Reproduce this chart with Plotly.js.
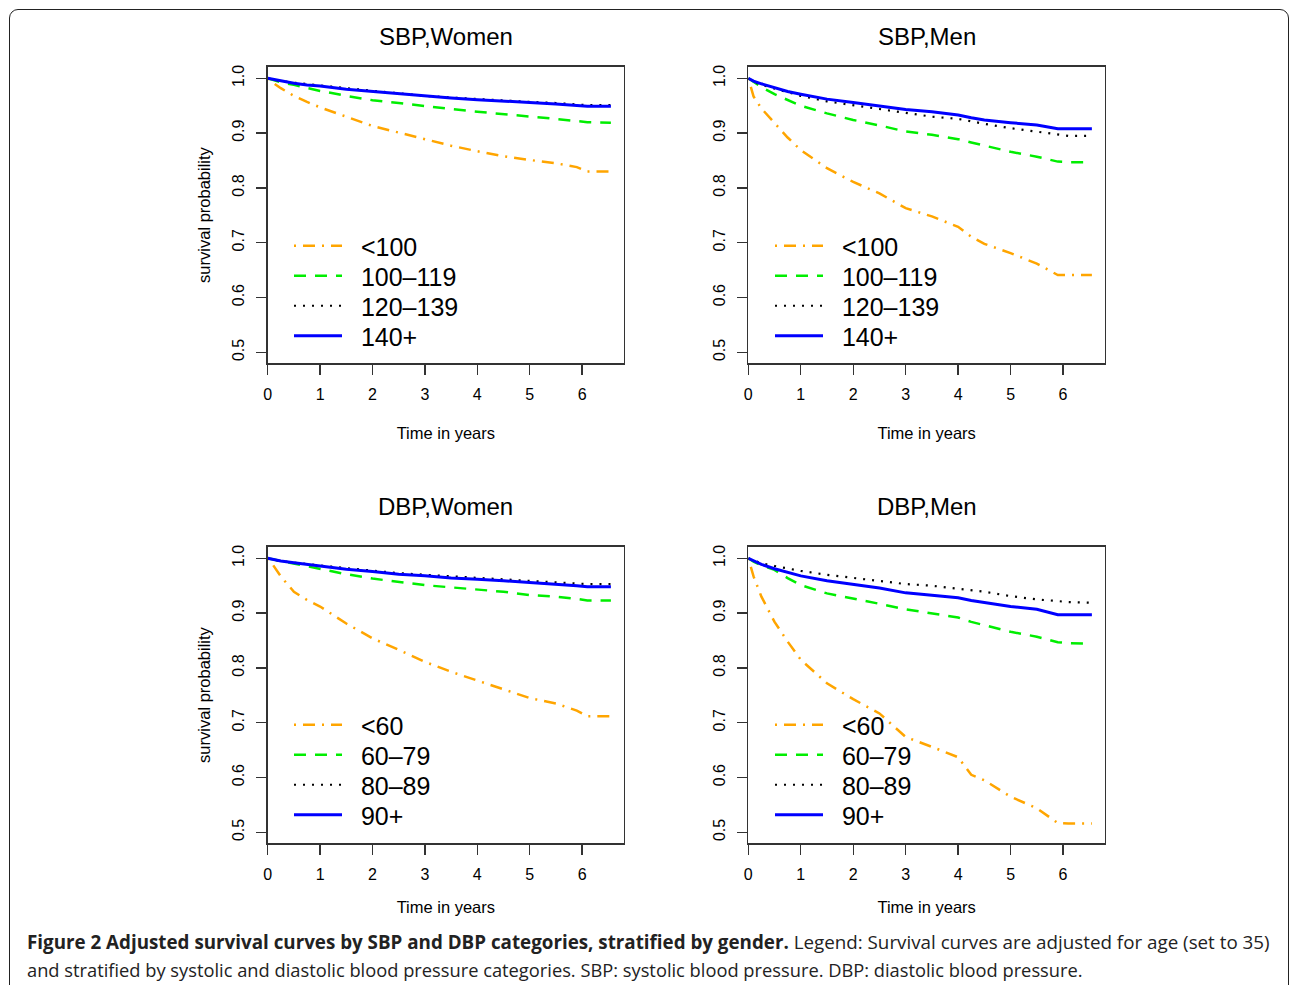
<!DOCTYPE html>
<html>
<head>
<meta charset="utf-8">
<script src="https://cdn.plot.ly/plotly-3.0.1.min.js"></script>
<style>
  html, body { margin: 0; padding: 0; background: #ffffff; overflow: hidden; width: 1290px; height: 985px; }
  #frame { position: absolute; left: 9px; top: 9px; width: 1280px; height: 1010px; box-sizing: border-box;
           border: 1.5px solid #222; border-radius: 9px; z-index: 0; }
  #chart { position: absolute; left: 0; top: 0; width: 1290px; height: 985px; z-index: 1; }
</style>
</head>
<body>
<div id="frame"></div>
<div id="chart"></div>
<script>
// ---- Data ----
var timeYears = [0, 0.1, 0.25, 0.5, 0.75, 1, 1.5, 2, 2.5, 3, 3.5, 4, 4.25, 4.5, 5, 5.5, 5.9, 6.1, 6.55];

var panelTitles = ["SBP,Women", "SBP,Men", "DBP,Women", "DBP,Men"];
var sbpCategories = ["<100", "100\u2013119", "120\u2013139", "140+"];
var dbpCategories = ["<60", "60\u201379", "80\u201389", "90+"];

// SBP, Women
var sbpWomenLt100   = [1.0, 0.992, 0.982, 0.968, 0.957, 0.947, 0.930, 0.913, 0.901, 0.889, 0.877, 0.867, 0.862, 0.858, 0.851, 0.845, 0.838, 0.830, 0.830];
var sbpWomen100_119 = [1.0, 0.997, 0.993, 0.988, 0.982, 0.977, 0.968, 0.960, 0.955, 0.949, 0.944, 0.939, 0.937, 0.934, 0.930, 0.926, 0.922, 0.920, 0.919];
var sbpWomen120_139 = [1.0, 0.998, 0.995, 0.992, 0.989, 0.987, 0.982, 0.977, 0.972, 0.968, 0.965, 0.962, 0.961, 0.959, 0.957, 0.955, 0.953, 0.951, 0.951];
var sbpWomen140p    = [1.0, 0.998, 0.995, 0.991, 0.988, 0.986, 0.980, 0.976, 0.971, 0.967, 0.964, 0.961, 0.960, 0.958, 0.956, 0.953, 0.950, 0.949, 0.949];

// SBP, Men
var sbpMenLt100   = [1.0, 0.967, 0.945, 0.918, 0.892, 0.869, 0.836, 0.811, 0.790, 0.763, 0.748, 0.729, 0.711, 0.698, 0.681, 0.662, 0.641, 0.641, 0.641];
var sbpMen100_119 = [1.0, 0.993, 0.984, 0.971, 0.960, 0.950, 0.936, 0.924, 0.914, 0.903, 0.897, 0.889, 0.883, 0.877, 0.866, 0.857, 0.848, 0.847, 0.847];
var sbpMen120_139 = [1.0, 0.994, 0.988, 0.981, 0.974, 0.968, 0.958, 0.951, 0.944, 0.936, 0.930, 0.926, 0.921, 0.917, 0.909, 0.903, 0.897, 0.895, 0.895];
var sbpMen140p    = [1.0, 0.995, 0.990, 0.983, 0.976, 0.971, 0.962, 0.956, 0.950, 0.943, 0.939, 0.933, 0.928, 0.924, 0.919, 0.915, 0.908, 0.908, 0.908];

// DBP, Women
var dbpWomenLt60  = [1.0, 0.988, 0.967, 0.939, 0.924, 0.912, 0.881, 0.854, 0.833, 0.811, 0.793, 0.777, 0.768, 0.760, 0.745, 0.735, 0.722, 0.712, 0.712];
var dbpWomen60_79 = [1.0, 0.998, 0.995, 0.990, 0.985, 0.980, 0.971, 0.963, 0.957, 0.951, 0.947, 0.943, 0.941, 0.939, 0.933, 0.930, 0.926, 0.923, 0.923];
var dbpWomen80_89 = [1.0, 0.998, 0.995, 0.992, 0.989, 0.987, 0.982, 0.977, 0.973, 0.970, 0.967, 0.964, 0.963, 0.961, 0.958, 0.956, 0.954, 0.953, 0.953];
var dbpWomen90p   = [1.0, 0.998, 0.995, 0.992, 0.989, 0.986, 0.980, 0.976, 0.971, 0.968, 0.964, 0.962, 0.960, 0.959, 0.956, 0.953, 0.950, 0.948, 0.948];

// DBP, Men
var dbpMenLt60  = [1.0, 0.967, 0.930, 0.884, 0.848, 0.815, 0.772, 0.743, 0.717, 0.674, 0.656, 0.637, 0.605, 0.595, 0.565, 0.544, 0.517, 0.516, 0.516];
var dbpMen60_79 = [1.0, 0.994, 0.987, 0.979, 0.964, 0.951, 0.936, 0.927, 0.917, 0.907, 0.900, 0.892, 0.884, 0.878, 0.866, 0.857, 0.847, 0.845, 0.844];
var dbpMen80_89 = [1.0, 0.996, 0.991, 0.986, 0.981, 0.977, 0.970, 0.964, 0.959, 0.953, 0.950, 0.945, 0.942, 0.939, 0.931, 0.925, 0.922, 0.920, 0.919];
var dbpMen90p   = [1.0, 0.995, 0.989, 0.981, 0.974, 0.968, 0.959, 0.953, 0.946, 0.937, 0.933, 0.928, 0.923, 0.919, 0.912, 0.907, 0.897, 0.897, 0.897];

var xTickVals = [0, 1, 2, 3, 4, 5, 6];
var xTickText = ["0", "1", "2", "3", "4", "5", "6"];
var yTickVals = [0.5, 0.6, 0.7, 0.8, 0.9, 1.0];
var yTickText = ["0.5", "0.6", "0.7", "0.8", "0.9", "1.0"];

var captionBold = "Figure 2 Adjusted survival curves by SBP and DBP categories, stratified by gender.";
var captionRest1 = " Legend: Survival curves are adjusted for age (set to 35)";
var captionLine2 = "and stratified by systolic and diastolic blood pressure categories. SBP: systolic blood pressure. DBP: diastolic blood pressure.";

// ---- Styles ----
var lineStyles = [
  { color: "#FFA500", width: 2.5, dash: "2px,7px,12px,7px" },
  { color: "#00EE00", width: 2.5, dash: "12px,9px" },
  { color: "#000000", width: 2.2, dash: "2px,7px" },
  { color: "#0000FF", width: 3,   dash: "solid" }
];

var panels = [
  { series: [sbpWomenLt100, sbpWomen100_119, sbpWomen120_139, sbpWomen140p], cats: sbpCategories },
  { series: [sbpMenLt100, sbpMen100_119, sbpMen120_139, sbpMen140p], cats: sbpCategories },
  { series: [dbpWomenLt60, dbpWomen60_79, dbpWomen80_89, dbpWomen90p], cats: dbpCategories },
  { series: [dbpMenLt60, dbpMen60_79, dbpMen80_89, dbpMen90p], cats: dbpCategories }
];

var W = 1290, H = 985;
var xDomains = [[267.7 / W, 624 / W], [748.3 / W, 1105 / W]];
var yDomains = [[1 - 363.3 / H, 1 - 66.7 / H], [1 - 843.3 / H, 1 - 546.7 / H]];
var titleGap = [29.7, 40];       // px between panel top and title centre, per row
var xTitleStandoff = [25, 19];   // per row

var fontFam = "Liberation Sans, Arial, Helvetica, sans-serif";
var axisColor = "#333333";
var legendPad = "\u00a0\u00a0";

var traces = [];
var layout = {
  width: W, height: H,
  margin: { l: 0, r: 0, t: 0, b: 0 },
  showlegend: true,
  paper_bgcolor: "rgba(0,0,0,0)",
  plot_bgcolor: "rgba(0,0,0,0)",
  font: { family: fontFam, color: "#000" },
  annotations: []
};

panels.forEach(function (p, i) {
  var col = i % 2, row = Math.floor(i / 2);
  var n = i + 1;
  var xa = "x" + (n === 1 ? "" : n), ya = "y" + (n === 1 ? "" : n);

  var legX = (col === 0 ? 289 : 770) / W;
  var legFirst = (row === 0 ? 246 : 725);

  p.series.forEach(function (vals, k) {
    var li = i * 4 + k + 1;
    var legName = "legend" + (li === 1 ? "" : li);
    traces.push({
      type: "scatter", mode: "lines",
      x: timeYears, y: vals,
      xaxis: xa, yaxis: ya,
      name: legendPad + p.cats[k],
      legend: legName,
      showlegend: true,
      line: lineStyles[k],
      hoverinfo: "x+y+name"
    });
    layout[legName] = {
      visible: true,
      x: legX, y: 1 - (legFirst + 30 * k) / H, xanchor: "left", yanchor: "middle",
      bgcolor: "rgba(0,0,0,0)", borderwidth: 0,
      font: { size: 25, family: fontFam, color: "#000" },
      itemwidth: 48
    };
  });

  layout["xaxis" + (n === 1 ? "" : n)] = {
    domain: xDomains[col], anchor: ya,
    range: [0, 6.8], tickmode: "array", tickvals: xTickVals, ticktext: xTickText,
    showgrid: false, zeroline: false,
    showline: true, mirror: true, linecolor: axisColor, linewidth: 1.3,
    ticks: "outside", ticklen: 10, tickwidth: 1.3, tickcolor: axisColor,
    tickfont: { size: 16, family: fontFam, color: "#000" },
    ticklabelstandoff: 6,
    title: { text: "Time in years", font: { size: 16.5, family: fontFam, color: "#000" }, standoff: xTitleStandoff[row] }
  };
  layout["yaxis" + (n === 1 ? "" : n)] = {
    domain: yDomains[row], anchor: xa,
    range: [0.48, 1.0212], tickmode: "array", tickvals: yTickVals, ticktext: yTickText,
    showgrid: false, zeroline: false,
    showline: true, mirror: true, linecolor: axisColor, linewidth: 1.3,
    ticks: "outside", ticklen: 10, tickwidth: 1.3, tickcolor: axisColor,
    tickangle: -90,
    tickfont: { size: 16, family: fontFam, color: "#000" },
    ticklabelstandoff: 6,
    title: col === 0 ? { text: "survival probability", font: { size: 16.5, family: fontFam, color: "#000" }, standoff: 15 } : { text: "" }
  };

  layout.annotations.push({
    text: panelTitles[i], xref: xa + " domain", yref: ya + " domain",
    x: 0.5, y: 1 + titleGap[row] / 296.6, xanchor: "center", yanchor: "middle",
    showarrow: false, font: { size: 24, family: fontFam, color: "#000" }
  });
});

layout.annotations.push({
  text: "<b>" + captionBold + "</b>" + captionRest1,
  xref: "paper", yref: "paper", x: 25 / W, y: 1 - 942 / H,
  xanchor: "left", yanchor: "middle", showarrow: false, align: "left",
  font: { size: 18.8, family: "Open Sans, sans-serif", color: "#222" }
});
layout.annotations.push({
  text: captionLine2,
  xref: "paper", yref: "paper", x: 25 / W, y: 1 - 969 / H,
  xanchor: "left", yanchor: "middle", showarrow: false, align: "left",
  font: { size: 18.3, family: "Open Sans, sans-serif", color: "#222" }
});

Plotly.newPlot("chart", traces, layout, { displayModeBar: false, staticPlot: true });
</script>
</body>
</html>
